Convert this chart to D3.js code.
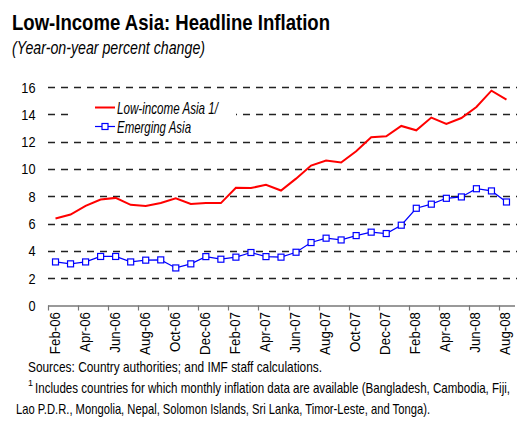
<!DOCTYPE html>
<html><head><meta charset="utf-8">
<script src="https://cdn.jsdelivr.net/npm/d3@7"></script>
<style>
body{margin:0;background:#fff;}
svg{display:block;}
text{font-family:"Liberation Sans",Arial,sans-serif;fill:#000;}
</style></head>
<body><svg id="c" width="529" height="431"></svg>
<script>
const months = ["Feb-06","Mar-06","Apr-06","May-06","Jun-06","Jul-06","Aug-06","Sep-06","Oct-06","Nov-06","Dec-06","Jan-07",
"Feb-07","Mar-07","Apr-07","May-07","Jun-07","Jul-07","Aug-07","Sep-07","Oct-07","Nov-07","Dec-07","Jan-08",
"Feb-08","Mar-08","Apr-08","May-08","Jun-08","Jul-08","Aug-08"];
const lowIncome = [6.37,6.66,7.29,7.76,7.88,7.37,7.29,7.51,7.85,7.44,7.51,7.5,
8.62,8.6,8.84,8.42,9.29,10.25,10.61,10.47,11.3,12.32,12.39,13.15,
12.83,13.76,13.29,13.73,14.54,15.73,15.08];
const emerging = [3.19,3.05,3.19,3.59,3.59,3.19,3.32,3.34,2.75,3.05,3.58,3.39,
3.54,3.88,3.58,3.54,3.9,4.61,4.93,4.8,5.12,5.37,5.27,5.88,
7.12,7.42,7.85,7.95,8.55,8.39,7.58];
const yTicks = [0,2,4,6,8,10,12,14,16];
const seriesNames = ["Low-income Asia 1/","Emerging Asia"];
const title = "Low-Income Asia: Headline Inflation";
const subtitle = "(Year-on-year percent change)";
const sourceNote = "Sources: Country authorities; and IMF staff calculations.";
const footnote1 = "Includes countries for which monthly inflation data are available (Bangladesh, Cambodia, Fiji,";
const footnote2 = "Lao P.D.R., Mongolia, Nepal, Solomon Islands, Sri Lanka, Timor-Leste, and Tonga).";

const svg = d3.select("#c");
const L = 48, R = 514, T = 87, B = 305.5;
const x = d3.scaleBand().domain(months).range([L,R]);
const y = d3.scaleLinear().domain([0,16]).range([B,T]);

function fit(sel, w){ sel.attr("textLength", w).attr("lengthAdjust","spacingAndGlyphs"); return sel; }
function squeeze(sel, f){ sel.each(function(){ const n=this.getComputedTextLength(); d3.select(this).attr("textLength", n*f).attr("lengthAdjust","spacingAndGlyphs"); }); return sel; }

// title
fit(svg.append("text").attr("x",12).attr("y",30).style("font-size","22px").style("font-weight","bold").text(title), 318);
fit(svg.append("text").attr("x",12).attr("y",53.5).style("font-size","18px").style("font-style","italic").text(subtitle), 193);

// gridlines
svg.append("g").selectAll("line").data(yTicks.filter(d=>d>0)).join("line")
  .attr("x1",L).attr("x2",517).attr("y1",d=>Math.round(y(d))+0.5).attr("y2",d=>Math.round(y(d))+0.5)
  .attr("stroke","#222").attr("stroke-width",1.3).attr("stroke-dasharray","7,6");

// y labels
squeeze(svg.append("g").selectAll("text").data(yTicks).join("text")
  .attr("x",35.5).attr("y",d=>y(d)+5.5).attr("text-anchor","end").style("font-size","15px").text(d=>d), 0.85);

// x axis
const tickMonths = months.filter((d,i)=>i%2===0);
svg.append("line").attr("x1",L).attr("x2",R+1).attr("y1",B+0.5).attr("y2",B+0.5).attr("stroke","#777").attr("stroke-width",1.5);
svg.append("g").selectAll("line").data(tickMonths).join("line")
  .attr("x1",d=>Math.round(x(d))+0.5).attr("x2",d=>Math.round(x(d))+0.5).attr("y1",B).attr("y2",B+5)
  .attr("stroke","#777").attr("stroke-width",1.2);
squeeze(svg.append("g").selectAll("text").data(tickMonths).join("text")
  .attr("transform",d=>`translate(${x(d)+x.bandwidth()/2+4},312) rotate(-90)`)
  .attr("text-anchor","end").style("font-size","14px").text(d=>d), 0.95);

// legend box
svg.append("rect").attr("x",74).attr("y",96).attr("width",162).attr("height",40).attr("fill","#fff");
svg.append("line").attr("x1",95).attr("x2",115).attr("y1",107.5).attr("y2",107.5).attr("stroke","#ff0000").attr("stroke-width",2);
fit(svg.append("text").attr("x",117).attr("y",114).style("font-size","16.5px").style("font-style","italic").text(seriesNames[0]), 101);
svg.append("line").attr("x1",95).attr("x2",115).attr("y1",126.5).attr("y2",126.5).attr("stroke","#0000ff").attr("stroke-width",1.2);
svg.append("rect").attr("x",102).attr("y",123.5).attr("width",6).attr("height",6).attr("fill","#fff").attr("stroke","#0000ff").attr("stroke-width",1.2);
fit(svg.append("text").attr("x",117).attr("y",132.5).style("font-size","16.5px").style("font-style","italic").text(seriesNames[1]), 74);

// lines
const cx = d=>x(d)+x.bandwidth()/2;
const line = d3.line().x((d,i)=>cx(months[i])).y(d=>y(d));
svg.append("path").datum(lowIncome).attr("d",line).attr("fill","none").attr("stroke","#ff0000").attr("stroke-width",2);
svg.append("path").datum(emerging).attr("d",line).attr("fill","none").attr("stroke","#0000ff").attr("stroke-width",1.2);
svg.append("g").selectAll("rect").data(emerging).join("rect")
  .attr("x",(d,i)=>cx(months[i])-3).attr("y",d=>y(d)-3).attr("width",6).attr("height",6)
  .attr("fill","#fff").attr("stroke","#0000ff").attr("stroke-width",1.2);

// footnotes
fit(svg.append("text").attr("x",28).attr("y",372).style("font-size","14.5px").text(sourceNote), 294);
svg.append("text").attr("x",28).attr("y",386).style("font-size","9px").text("1");
fit(svg.append("text").attr("x",35).attr("y",392.5).style("font-size","14.5px").text(footnote1), 475);
fit(svg.append("text").attr("x",16).attr("y",413.5).style("font-size","14.5px").text(footnote2), 414);
</script></body></html>
